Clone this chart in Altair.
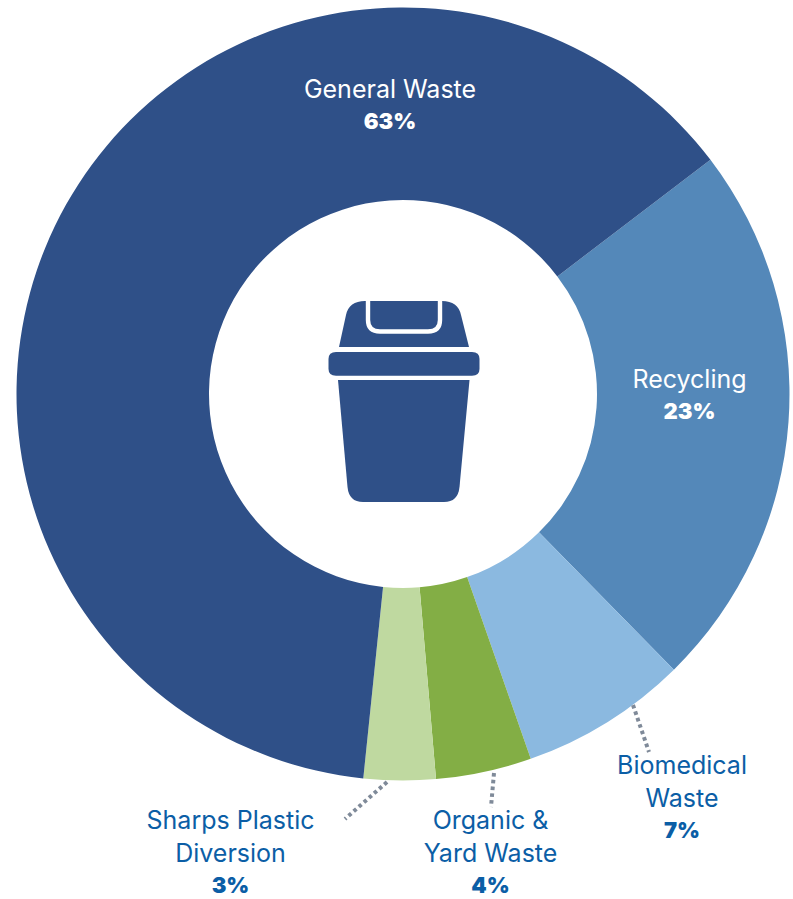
import math
import altair as alt
import pandas as pd

# Waste stream shares, clockwise from the General Waste / Recycling boundary
names = ["Recycling", "Biomedical Waste", "Organic & Yard Waste", "Sharps Plastic Diversion", "General Waste"]
shares = [23, 7, 4, 3, 63]
colours = ["#5488B9", "#8BB9E0", "#83AE45", "#BFD9A0", "#2F5088"]

W, H = 793, 899
CX, CY = 403, 394
START = math.radians(52.7)
FONT = "Inter"
BLUE = "#0B5EA6"
WHITE = "#FFFFFF"
NAVY = "#2F5088"
LEADER = "#7F8A99"

df = pd.DataFrame({"name": names, "share": shares, "idx": range(len(names))})
share_of = dict(zip(names, shares))

ring = alt.Chart(df).mark_arc(innerRadius=194, outerRadius=386.5).encode(
    theta=alt.Theta(
        "share:Q", stack=True,
        scale=alt.Scale(domain=[0, 100], range=[START, START + 2 * math.pi]),
    ),
    color=alt.Color("name:N", scale=alt.Scale(domain=names, range=colours), legend=None),
    order=alt.Order("idx:Q"),
    x=alt.value(CX),
    y=alt.value(CY),
)


def text_line(text, x, y, colour, bold=False):
    return alt.Chart(df.head(1)).mark_text(
        text=text, font=FONT, fontSize=22 if bold else 25,
        fontWeight=900 if bold else 400, color=colour,
        align="center", baseline="middle",
    ).encode(x=alt.value(x), y=alt.value(y + 1))


def label(name, lines, x, ys, colour):
    out = [text_line(line, x, y, colour) for line, y in zip(lines, ys)]
    out.append(text_line(f"{share_of[name]}%", x, ys[len(lines)], colour, bold=True))
    return out


def leader(x1, y1, x2, y2):
    return alt.Chart(df.head(1)).mark_rule(
        color=LEADER, strokeWidth=4, strokeDash=[3.6, 3.2]
    ).encode(x=alt.value(x1), x2=alt.value(x2), y=alt.value(y1), y2=alt.value(y2))


def icon_part(path, fill=NAVY, stroke=None, stroke_width=0):
    # Shape paths live in a -1..1 box; a size of 40000 makes one unit 100 pixels
    kwargs = dict(shape=path, size=40000, opacity=1, filled=fill is not None)
    if fill is not None:
        kwargs["fill"] = fill
    if stroke is not None:
        kwargs["stroke"] = stroke
        kwargs["strokeWidth"] = stroke_width
    return alt.Chart(df.head(1)).mark_point(**kwargs).encode(
        x=alt.value(404), y=alt.value(401)
    )


lid = ("M-0.65,-0.54 L-0.58,-0.86 Q-0.55,-1 -0.39,-1 L0.38,-1 Q0.54,-1 0.57,-0.86 "
       "L0.65,-0.54 Z")
handle = ("M-0.36,-1 L-0.36,-0.81 Q-0.36,-0.695 -0.24,-0.695 L0.24,-0.695 "
          "Q0.36,-0.695 0.36,-0.81 L0.36,-1")
band = ("M-0.68,-0.49 L0.68,-0.49 Q0.755,-0.49 0.755,-0.42 L0.755,-0.32 "
        "Q0.755,-0.253 0.68,-0.253 L-0.68,-0.253 Q-0.755,-0.253 -0.755,-0.32 "
        "L-0.755,-0.42 Q-0.755,-0.49 -0.68,-0.49 Z")
body = ("M-0.66,-0.21 L0.655,-0.21 L0.555,0.86 Q0.54,1.01 0.40,1.01 L-0.41,1.01 "
        "Q-0.55,1.01 -0.565,0.86 Z")

layers = [ring]
layers += [
    leader(633, 705, 649, 752),
    leader(494, 773, 491, 807),
    leader(387, 782, 345, 819),
]
layers += [icon_part(lid), icon_part(band), icon_part(body)]
layers.append(icon_part(handle, fill=None, stroke=WHITE, stroke_width=4.4))
layers += label("General Waste", ["General Waste"], 390, [89, 121], WHITE)
layers += label("Recycling", ["Recycling"], 689.5, [379, 411], WHITE)
layers += label("Biomedical Waste", ["Biomedical", "Waste"], 682, [765, 798, 830], BLUE)
layers += label("Organic & Yard Waste", ["Organic &", "Yard Waste"], 490.5, [820, 853, 885], BLUE)
layers += label("Sharps Plastic Diversion", ["Sharps Plastic", "Diversion"], 230.5, [820, 853, 885], BLUE)

chart = alt.layer(*layers).properties(
    width=W, height=H, padding=0,
    autosize=alt.AutoSizeParams(type="none"),
    background="#FFFFFF",
).configure_view(stroke=None)

chart.save("out.html", embed_options={"renderer": "svg", "actions": False})
